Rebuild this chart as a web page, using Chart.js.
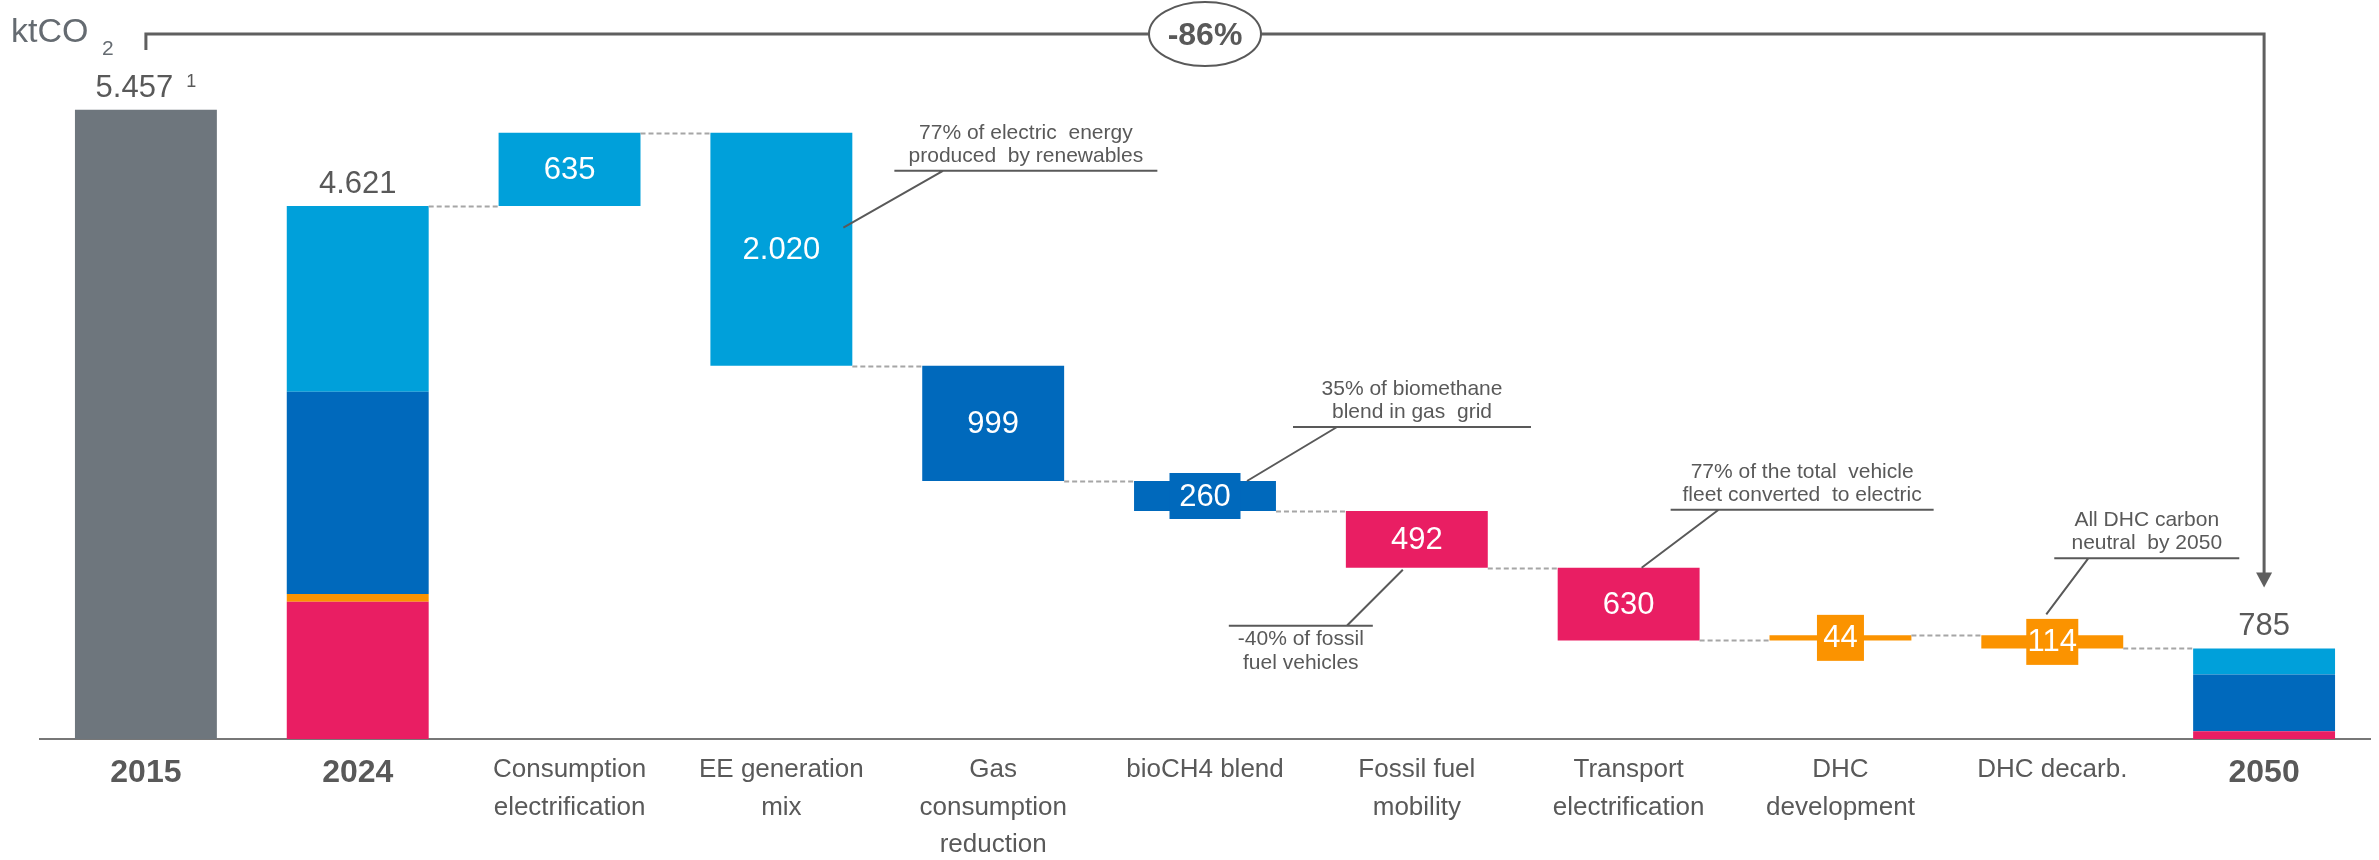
<!DOCTYPE html>
<html>
<head>
<meta charset="utf-8">
<script src="https://cdn.jsdelivr.net/npm/chart.js@4/dist/chart.umd.min.js"></script>
<style>
  html, body { margin: 0; padding: 0; background: #fff; }
  #wrap { width: 2379px; height: 860px; position: relative; }
</style>
</head>
<body>
<div id="wrap"><canvas id="chart"></canvas></div>
<script>
// ---- data ----
const categories = [['2015'], ['2024'], ['Consumption', 'electrification'], ['EE generation', 'mix'],
  ['Gas', 'consumption', 'reduction'], ['bioCH4 blend'], ['Fossil fuel', 'mobility'],
  ['Transport', 'electrification'], ['DHC', 'development'], ['DHC decarb.'], ['2050']];
const totalCategories = ['2015', '2024', '2050'];

const value2015 = 5457;
const sectors = ['Fossil fuel mobility', 'DHC', 'Gas', 'Electricity']; // bottom to top
const stack2024 = [1189, 69, 1753, 1610];
const stack2050 = [67, 0, 493, 225];
const stepValues = [635, -2020, -999, -260, -492, -630, 44, -114];
const stepSector = [3, 3, 2, 2, 0, 0, 1, 1];

const changeLabel = '-86%';
const footnoteMark = '1';

const noteTexts = [
  ['77% of electric  energy', 'produced  by renewables'],
  ['35% of biomethane', 'blend in gas  grid'],
  ['-40% of fossil', 'fuel vehicles'],
  ['77% of the total  vehicle', 'fleet converted  to electric'],
  ['All DHC carbon', 'neutral  by 2050']
];
const noteCategory = [3, 5, 6, 7, 9];
const noteValue = [4433, 2237, 1485, 1485, 899];

// ---- style ----
const FONT = "'Liberation Sans', Arial, sans-serif";
const TEXT = '#595959';
const baseColor = '#6e767d';
const sectorColors = ['#e91e63', '#fb9300', '#0069bc', '#00a0da'];
// callout layout: leader end dx/dy, underline dy, leader start dx, underline from/to dx, text above or below
const noteLayout = [
  { ex: 62, edy: 0, uy: -57, lx: 162, u0: 113, u1: 376, below: false },
  { ex: 42, edy: 0, uy: -54, lx: 132, u0: 88, u1: 326, below: false },
  { ex: -14, edy: 2, uy: 56, lx: -70, u0: -188, u1: -44, below: true },
  { ex: 13, edy: 0, uy: -58, lx: 90, u0: 42, u1: 305, below: false },
  { ex: -6, edy: -21, uy: -56, lx: 36, u0: 2, u1: 187, below: false }
];
const labelBoxWidth = { 5: 71, 8: 47, 9: 52 };

// ---- build floating bars ----
const N = categories.length;
const baseData = new Array(N).fill(null);
baseData[0] = [0, value2015];
const sectorData = sectors.map(() => new Array(N).fill(null));

let acc = 0;
stack2024.forEach((v, s) => { sectorData[s][1] = [acc, acc + v]; acc += v; });
let running = acc;
const levels = [value2015, running];
stepValues.forEach((v, k) => {
  sectorData[stepSector[k]][k + 2] = [Math.min(running, running + v), Math.max(running, running + v)];
  running += v;
  levels.push(running);
});
acc = 0;
stack2050.forEach((v, s) => { if (v > 0) sectorData[s][N - 1] = [acc, acc + v]; acc += v; });
levels.push(acc);

function fmt(n) {
  return String(Math.round(n)).replace(/\B(?=(\d{3})+(?!\d))/g, '.');
}

const datasets = [{ label: '2015', data: baseData, backgroundColor: baseColor }];
sectors.forEach((name, s) => {
  datasets.push({ label: name, data: sectorData[s], backgroundColor: sectorColors[s] });
});

// ---- drawing of labels, connectors, callouts ----
const overlay = {
  id: 'overlay',
  afterDatasetsDraw(chart) {
    const { ctx, scales: { x, y } } = chart;
    const half = chart.getDatasetMeta(0).data[0].width / 2;
    ctx.save();

    // dashed connectors
    ctx.strokeStyle = '#a6a6a6';
    ctx.lineWidth = 2;
    ctx.setLineDash([5, 3]);
    for (let i = 1; i < N - 1; i++) {
      const yy = Math.round(y.getPixelForValue(levels[i])) + 0.5;
      ctx.beginPath();
      ctx.moveTo(x.getPixelForValue(i) + half, yy);
      ctx.lineTo(x.getPixelForValue(i + 1) - half, yy);
      ctx.stroke();
    }
    ctx.setLineDash([]);

    // values inside step bars
    ctx.textAlign = 'center';
    ctx.textBaseline = 'middle';
    ctx.font = '31px ' + FONT;
    stepValues.forEach((v, k) => {
      const i = k + 2;
      const el = chart.getDatasetMeta(stepSector[k] + 1).data[i];
      const cy = (el.y + el.base) / 2;
      const h = Math.abs(el.base - el.y);
      if (h < 40) {
        const bw = labelBoxWidth[i] || ctx.measureText(fmt(Math.abs(v))).width + 20;
        ctx.fillStyle = sectorColors[stepSector[k]];
        ctx.fillRect(el.x - bw / 2, cy - 23, bw, 46);
      }
      ctx.fillStyle = '#fff';
      ctx.fillText(fmt(Math.abs(v)), el.x, cy + 1);
    });

    // totals above 2015 / 2024 / 2050
    ctx.fillStyle = TEXT;
    ctx.textBaseline = 'alphabetic';
    [0, 1, N - 1].forEach(i => {
      const cx = x.getPixelForValue(i);
      const by = y.getPixelForValue(levels[i]) - 13;
      ctx.font = '31px ' + FONT;
      const t = fmt(levels[i]);
      if (i === 0) {
        const w = ctx.measureText(t).width;
        ctx.font = '18px ' + FONT;
        const ws = ctx.measureText(footnoteMark).width;
        const x0 = cx - (w + 13 + ws) / 2;
        ctx.textAlign = 'left';
        ctx.fillText(footnoteMark, x0 + w + 13, by - 10);
        ctx.font = '31px ' + FONT;
        ctx.fillText(t, x0, by);
        ctx.textAlign = 'center';
      } else {
        ctx.fillText(t, cx, by);
      }
    });

    // callouts
    ctx.strokeStyle = TEXT;
    ctx.lineWidth = 2;
    ctx.font = '21px ' + FONT;
    noteTexts.forEach((lines, n) => {
      const L = noteLayout[n];
      const cx = x.getPixelForValue(noteCategory[n]);
      const ey = y.getPixelForValue(noteValue[n]) + L.edy;
      const uy = ey + L.uy;
      ctx.beginPath();
      ctx.moveTo(cx + L.ex, ey);
      ctx.lineTo(cx + L.lx, uy);
      ctx.moveTo(cx + L.u0, uy);
      ctx.lineTo(cx + L.u1, uy);
      ctx.stroke();
      const tx = cx + (L.u0 + L.u1) / 2;
      ctx.textAlign = 'center';
      ctx.textBaseline = 'middle';
      lines.forEach((ln, j) => {
        const ty = L.below ? uy + 13 + j * 24 : uy - 15 - (lines.length - 1 - j) * 23;
        ctx.fillText(ln, tx, ty);
      });
    });

    // unit label
    ctx.fillStyle = '#656b71';
    ctx.textAlign = 'left';
    ctx.textBaseline = 'alphabetic';
    ctx.font = '34px ' + FONT;
    ctx.fillText('ktCO', 11, 42);
    ctx.font = '21px ' + FONT;
    ctx.fillText('2', 102, 55);

    // -86% bracket with arrow
    const xl = x.getPixelForValue(0);
    const xr = x.getPixelForValue(N - 1);
    const tipY = y.getPixelForValue(levels[N - 1]) - 61;
    const topY = 34;
    ctx.strokeStyle = '#5f5f5f';
    ctx.lineWidth = 3;
    ctx.beginPath();
    ctx.moveTo(xl, 50);
    ctx.lineTo(xl, topY);
    ctx.lineTo(xr, topY);
    ctx.lineTo(xr, tipY - 12);
    ctx.stroke();
    ctx.fillStyle = '#5f5f5f';
    ctx.beginPath();
    ctx.moveTo(xr - 8, tipY - 15);
    ctx.lineTo(xr + 8, tipY - 15);
    ctx.lineTo(xr, tipY);
    ctx.closePath();
    ctx.fill();

    const ox = x.getPixelForValue(5);
    ctx.beginPath();
    ctx.ellipse(ox, topY, 56, 32, 0, 0, Math.PI * 2);
    ctx.fillStyle = '#fff';
    ctx.fill();
    ctx.lineWidth = 2;
    ctx.strokeStyle = TEXT;
    ctx.stroke();
    ctx.fillStyle = TEXT;
    ctx.font = 'bold 32px ' + FONT;
    ctx.textAlign = 'center';
    ctx.textBaseline = 'middle';
    ctx.fillText(changeLabel, ox, topY + 2);

    ctx.restore();
  }
};

Chart.defaults.font.family = FONT;

const config = {
  type: 'bar',
  data: { labels: categories, datasets: datasets },
  plugins: [overlay],
  options: {
    responsive: true,
    maintainAspectRatio: false,
    animation: false,
    layout: { padding: { left: 40, right: 9, top: 47, bottom: 0 } },
    datasets: {
      bar: { categoryPercentage: 1, barPercentage: 0.67, borderWidth: 0, borderSkipped: false }
    },
    scales: {
      x: {
        stacked: true,
        grid: { display: false, drawTicks: false },
        border: { display: true, color: '#777777', width: 2 },
        afterFit: (scale) => { scale.height = 121; },
        ticks: {
          autoSkip: false,
          maxRotation: 0,
          padding: 12,
          color: TEXT,
          font: (c) => totalCategories.includes(categories[c.index][0])
            ? { size: 32, weight: 'bold', lineHeight: 1.375 }
            : { size: 26, lineHeight: 1.45 }
        }
      },
      y: { display: false, stacked: false, min: 0, max: 6000 }
    },
    plugins: {
      legend: { display: false },
      tooltip: { enabled: false }
    }
  }
};

const barChart = new Chart(document.getElementById('chart').getContext('2d'), config);
</script>
</body>
</html>
